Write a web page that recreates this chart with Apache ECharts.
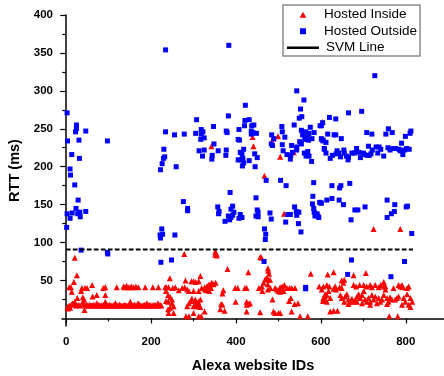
<!DOCTYPE html>
<html>
<head>
<meta charset="utf-8">
<script src="https://cdn.jsdelivr.net/npm/echarts@6/dist/echarts.min.js"></script>
<style>
html, body { margin: 0; padding: 0; background: #fff; }
#rttChart { width: 444px; height: 376px; }
</style>
</head>
<body>
<div id="rttChart"></div>
<script>
// [Alexa ID, RTT ms]
var hostedInside = [
	// above the SVM line
	[342,227],[439,239],[441,227],[467,188],[499,240],[487,237],[504,213],[536,219],[513,138],[604,259],[724,118],[787,118],[561,243],
	// just below the line
	[20,80],[351,88],[353,86],[355,83],[351,84],[278,85],[457,81],[460,80],[475,66],[476,63],[478,59],[380,65],[429,61],[576,59],
	// ids 0-100
	[25,57],[18,48],[7,41],[11,41],[13,35],[4,13],[7,17],[18,19],[23,17],[26,27],[35,36],[37,40],[44,40],[49,40],[39,28],[42,25],
	[43,11],[61,44],[62,29],[72,31],[87,40],[92,41],[92,31],[3,15],[9,14],[15,20],[20,22],[28,18],[32,17],[39,22],[41,19],[12,18],
	// flat band
	[44,17],[47,18],[50,17],[53,17],[56,18],[59,17],[62,17],[65,18],[68,17],[71,17],[72,20],[74,17],[77,18],[80,17],[83,17],[86,17],
	[89,18],[92,17],[92,22],[95,17],[98,17],[101,18],[104,17],[107,17],[110,17],[113,18],[116,17],[116,20],[119,17],[122,17],[125,18],
	[128,17],[131,17],[134,17],[137,18],[140,17],[143,17],[146,17],[149,18],[151,22],[152,17],[155,17],[158,17],[161,18],[164,17],
	[167,17],[169,20],[170,17],[173,18],[176,17],[179,17],[182,17],[185,18],[188,17],[190,20],[191,17],[194,17],[197,18],[200,17],
	[203,17],[206,17],[209,18],[212,17],[215,17],[216,20],[218,17],[221,18],[224,17],
	[119,41],[135,42],[137,41],[142,43],[146,41],[150,41],[154,42],[158,41],[164,42],[170,41],[186,41],[204,41],[217,41],
	// ids 230-320
	[244,53],[233,41],[236,41],[241,41],[251,40],[257,41],[265,37],[273,40],[279,41],[285,38],[295,49],[300,49],[312,49],[281,50],
	[316,56],[289,36],[300,36],[312,36],[235,36],[240,31],[245,28],[249,25],[240,22],[249,20],[253,16],[240,12],[241,7],[253,7],
	[235,23],[245,14],[285,16],[289,20],[293,23],[296,26],[304,23],[311,22],[316,25],[300,16],[308,16],[316,15],[282,3],[289,3],
	[300,7],[312,3],
	// ids 300-610
	[305,48],[319,40],[326,41],[331,42],[335,44],[339,45],[343,47],[347,45],[352,47],[331,37],[337,36],[327,38],[341,40],[370,37],
	[368,33],[398,40],[404,40],[421,40],[425,40],[454,40],[461,42],[465,47],[469,52],[473,53],[476,51],[480,51],[475,45],[481,40],
	[475,38],[462,36],[492,40],[496,38],[504,41],[509,42],[514,44],[512,36],[520,40],[526,40],[531,40],[539,40],[504,35],[500,36],
	[509,36],[486,25],[529,27],[525,23],[546,20],[538,19],[596,42],[609,29],[606,25],[304,25],[307,20],[311,19],[305,18],[326,9],
	[318,3],[365,19],[368,18],[363,12],[373,10],[399,22],[425,22],[429,19],[433,20],[425,18],[425,9],[457,8],[488,9],[492,7],
	[500,7],[504,7],[531,9],[551,3],[569,3],
	// ids 600-820
	[706,60],[677,57],[616,58],[630,61],[649,50],[655,51],[653,47],[614,44],[620,42],[634,42],[644,41],[649,40],[630,39],[636,38],
	[618,36],[610,32],[606,27],[614,31],[622,27],[605,23],[614,22],[646,31],[649,27],[657,29],[661,32],[665,25],[655,22],[669,22],
	[673,26],[677,22],[681,25],[685,29],[685,22],[689,32],[693,27],[697,31],[701,36],[704,25],[708,22],[712,27],[716,22],[720,31],
	[724,25],[728,29],[732,20],[736,27],[740,22],[744,25],[748,31],[752,38],[752,42],[748,48],[756,27],[759,22],[763,28],[767,25],
	[771,40],[775,25],[779,27],[783,29],[787,42],[791,44],[795,27],[799,22],[803,32],[807,42],[811,27],[815,22],[677,44],[683,42],
	[691,44],[701,44],[708,42],[716,44],[720,41],[728,44],[736,41],[741,44],[748,42],[783,44],[793,41],[803,40],[811,15],[622,9],
	[630,10],[639,10],[761,3],[781,3],[665,19],[697,20],[716,18],[756,19],[791,18],[807,18],[606,42],[602,38]
];

var hostedOutside = [
	// ids 0-100
	[2,271],[3,234],[1,120],[2,138],[9,132],[9,197],[10,189],[13,216],[14,139],[20,176],[22,246],[24,250],[24,255],[23,145],[28,156],
	[30,235],[31,211],[27,138],[32,140],[33,134],[46,247],[46,141],[35,90],[97,234],[97,87],[98,85],
	// ids 220-300
	[222,196],[226,204],[229,211],[232,213],[230,223],[234,246],[255,242],[259,200],[221,110],[225,118],[227,111],[222,106],[256,110],
	[223,74],[248,77],[278,243],[276,154],[286,145],[286,142],[234,354],
	// ids 300-610, upper group
	[307,262],[305,244],[318,249],[322,246],[318,243],[325,238],[317,236],[313,221],[325,222],[321,214],[347,253],[382,267],[422,281],
	[348,230],[344,215],[343,210],[358,221],[377,222],[376,215],[377,247],[379,245],[421,261],[420,254],[431,262],[407,249],[408,235],
	[437,254],[442,255],[436,247],[440,245],[448,244],[436,243],[418,223],[410,219],[414,217],[416,211],[410,209],[418,205],[415,201],
	[405,209],[431,208],[444,217],[450,212],[445,200],[484,242],[489,237],[483,230],[486,228],[508,253],[509,246],[515,239],[509,229],
	[511,221],[531,228],[543,226],[537,255],[549,264],[555,266],[552,276],[560,288],[543,300],[554,248],[564,246],[557,242],[568,239],
	[572,244],[575,252],[584,245],[562,236],[571,235],[579,237],[550,233],[554,230],[533,219],[543,222],[520,216],[528,210],[529,215],
	[561,218],[569,220],[572,214],[578,207],[565,214],[598,254],[604,258],[602,236],[605,234],[608,223],[383,360],[727,320],[405,236],
	// ids 350-600, lower group
	[386,166],[447,159],[357,147],[360,141],[359,138],[392,148],[388,144],[395,140],[392,136],[382,135],[385,130],[374,128],[388,133],
	[410,137],[414,133],[407,132],[450,143],[452,140],[447,135],[452,134],[471,182],[505,182],[518,175],[480,139],[483,131],[467,118],
	[470,111],[469,104],[522,137],[528,137],[517,127],[538,147],[542,141],[548,140],[543,136],[547,125],[553,114],[583,179],[581,161],
	[580,151],[583,145],[584,140],[591,138],[593,135],[586,135],[595,133],[600,152],[597,153],
	// ids 600-820, upper group
	[620,265],[635,263],[665,271],[696,273],[616,243],[631,242],[635,242],[648,237],[601,254],[601,237],[605,235],[612,232],[608,224],
	[612,218],[622,211],[627,215],[636,217],[638,221],[642,218],[646,213],[654,222],[655,218],[660,214],[665,212],[673,218],[664,209],
	[679,218],[684,224],[689,219],[693,212],[700,218],[702,216],[709,215],[714,215],[718,217],[712,227],[721,222],[730,226],[737,226],
	[741,223],[748,214],[734,218],[758,225],[763,222],[770,224],[776,224],[784,223],[790,231],[793,216],[797,222],[802,224],[808,223],
	[787,221],[708,245],[720,243],[753,243],[768,245],[759,250],[799,240],[810,244],[812,247],
	// ids 600-820, lower group
	[626,175],[644,172],[647,175],[668,178],[601,152],[614,156],[626,158],[643,156],[653,150],[680,143],[687,143],[704,147],[671,130],
	[756,156],[774,150],[801,147],[804,148],[773,141],[766,138],[756,133],[814,112],
	// below the SVM line
	[672,77],[663,58],[765,55],[797,75],[466,75],[564,41],[564,39]
];

var svmLine = [[-1, 91], [817, 91]];

var xLabelValues = [0, 200, 400, 600, 800];
var xMinorTicks = [100, 300, 500, 700];
var yLabelValues = [50, 100, 150, 200, 250, 300, 350, 400];
var yMinorTicks = [25, 75, 125, 175, 225, 275, 325, 375];

var font = 'Liberation Sans, Arial, sans-serif';
var charts = echarts.init(document.getElementById('rttChart'));

var tickLabel = {
	fontFamily : font,
	fontWeight : 'bold',
	fontSize : 11.5,
	color : '#000'
};
var axisName = {
	fontFamily : font,
	fontWeight : 'bold',
	fontSize : 14.5,
	color : '#000'
};
var blackLine = { show : true, lineStyle : { color : '#000', width : 1.5 } };

option = {
	animation : false,
	grid : {
		left : 62,
		right : 0,
		top : 15,
		bottom : 50,
		containLabel : false,
		outerBoundsMode : 'none'
	},
	legend : {
		orient : 'vertical',
		left : 283,
		top : 5,
		padding : [ 1.5, 3, 0, 4 ],
		itemWidth : 32,
		itemHeight : 6,
		itemGap : 0,
		backgroundColor : '#fff',
		borderColor : '#8c8c8c',
		borderWidth : 1.5,
		borderRadius : 0,
		selectedMode : false,
		textStyle : {
			fontFamily : font,
			fontSize : 13.5,
			color : '#000',
			lineHeight : 16.5
		},
		data : [
			{ name : 'Hosted Inside', icon : 'path://M5,0L10,9L0,9Z' },
			{ name : 'Hosted Outside', icon : 'path://M0,0H10V10H0Z' },
			{ name : 'SVM Line', icon : 'path://M0,0H32V2.5H0Z', itemStyle : { color : '#000', borderWidth : 0 },
				textStyle : { padding : [ 0, 0, 0, 2 ] } }
		]
	},
	xAxis : [ {
		type : 'value',
		min : -10,
		max : 890,
		name : 'Alexa website IDs',
		nameLocation : 'middle',
		nameGap : 32,
		nameTextStyle : axisName,
		axisLine : blackLine,
		axisTick : { show : true, customValues : xLabelValues, length : 5, lineStyle : { color : '#000', width : 1.2 } },
		axisLabel : Object.assign({ customValues : xLabelValues, margin : 10 }, tickLabel),
		splitLine : { show : false }
	}, {
		type : 'value',
		min : -10,
		max : 890,
		position : 'bottom',
		axisLine : { show : false },
		axisTick : { show : true, customValues : xMinorTicks, length : 3, lineStyle : { color : '#000', width : 1.2 } },
		axisLabel : { show : false },
		splitLine : { show : false }
	} ],
	yAxis : [ {
		type : 'value',
		min : -10,
		max : 400,
		name : 'RTT (ms)',
		nameLocation : 'middle',
		nameGap : 37,
		nameTextStyle : axisName,
		axisLine : blackLine,
		axisTick : { show : true, customValues : yLabelValues, length : 6, lineStyle : { color : '#000', width : 1.2 } },
		axisLabel : Object.assign({ customValues : yLabelValues, margin : 9 }, tickLabel),
		splitLine : { show : false }
	}, {
		type : 'value',
		min : -10,
		max : 400,
		position : 'left',
		axisLine : { show : false },
		axisTick : { show : true, customValues : yMinorTicks, length : 4, lineStyle : { color : '#000', width : 1.2 } },
		axisLabel : { show : false },
		splitLine : { show : false }
	} ],
	series : [ {
		name : 'Hosted Inside',
		type : 'scatter',
		data : hostedInside,
		symbol : 'triangle',
		symbolSize : [ 6, 6 ],
		itemStyle : { color : '#ff0000', opacity : 1 },
		emphasis : { disabled : true }
	}, {
		name : 'Hosted Outside',
		type : 'scatter',
		data : hostedOutside,
		symbol : 'rect',
		symbolSize : 5,
		itemStyle : { color : '#0000ff', opacity : 1 },
		emphasis : { disabled : true }
	}, {
		name : 'SVM Line',
		type : 'line',
		data : svmLine,
		symbol : 'none',
		itemStyle : { color : '#000' },
		lineStyle : { color : '#000', width : 2, type : [ 4.7, 2.3 ] },
		emphasis : { disabled : true }
	} ]
};

charts.setOption(option);
</script>
</body>
</html>
